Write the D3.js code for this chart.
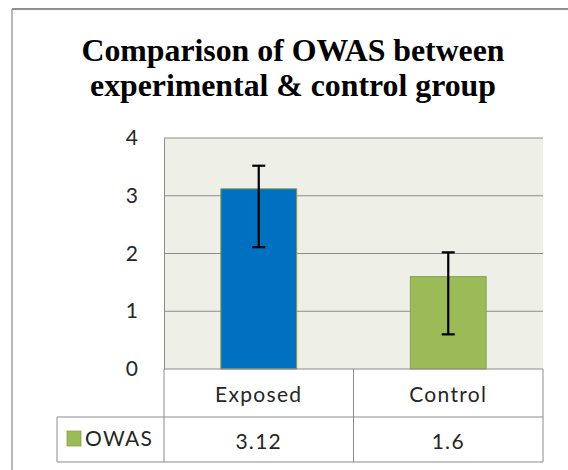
<!DOCTYPE html>
<html>
<head>
<meta charset="utf-8">
<script src="https://cdn.jsdelivr.net/npm/d3@7"></script>
<style>
html,body{margin:0;padding:0;background:#fff;}
svg{display:block;}
</style>
</head>
<body>
<svg id="chart" width="568" height="470"></svg>
<script>
const titleLines = ["Comparison of OWAS between", "experimental & control group"];
const categories = ["Exposed", "Control"];
const seriesName = "OWAS";
const values = [3.12, 1.6];
const valueLabels = ["3.12", "1.6"];
const errUpper = [3.52, 2.02];
const errLower = [2.11, 0.60];
const barColors = ["#0070C0", "#9BBB59"];
const barStroke = ["#7f9a5a", "#86a34c"];
const yTicks = [0, 1, 2, 3, 4];

const svg = d3.select("#chart");
const plot = {left: 164, right: 543, top: 138, bottom: 369};
const table = {legendLeft: 57, headerBottom: 417, bottom: 462};
const gridColor = "#8c8c8c";
const labelFont = "Lato, 'Open Sans', sans-serif";
const textColor = "#262626";

// outer frame
svg.append("line").attr("x1", 12).attr("x2", 568).attr("y1", 9).attr("y2", 9)
  .attr("stroke", "#8f8f8f").attr("stroke-width", 2);
svg.append("line").attr("x1", 12).attr("x2", 12).attr("y1", 9).attr("y2", 470)
  .attr("stroke", "#a0a0a0").attr("stroke-width", 1.5);

// title
const title = svg.append("text").attr("x", 293).attr("text-anchor", "middle")
  .attr("font-family", "'Liberation Serif', 'Times New Roman', serif")
  .attr("font-weight", "bold").attr("font-size", 31.8).attr("fill", "#000");
titleLines.forEach((t, i) => {
  title.append("tspan").attr("x", 293).attr("y", 61 + i * 35).text(t);
});

const y = d3.scaleLinear().domain([0, 4]).range([plot.bottom, plot.top]);
const x = d3.scaleBand().domain(categories).range([plot.left, plot.right]).padding(0);
const barW = x.bandwidth() * 0.4;

// plot background
svg.append("rect").attr("x", plot.left).attr("y", plot.top)
  .attr("width", plot.right - plot.left).attr("height", plot.bottom - plot.top)
  .attr("fill", "#EEF0E8");

// gridlines
svg.append("g").selectAll("line").data(yTicks.filter(d => d > 0)).join("line")
  .attr("x1", plot.left).attr("x2", plot.right)
  .attr("y1", d => y(d)).attr("y2", d => y(d))
  .attr("stroke", gridColor).attr("stroke-width", 1);

// y axis
const yAxis = d3.axisLeft(y).tickValues(yTicks).tickSize(0).tickPadding(26).tickFormat(d3.format("d"));
const ya = svg.append("g").attr("transform", `translate(${plot.left},0)`).call(yAxis);
ya.select(".domain").attr("stroke", gridColor);
ya.selectAll("text").attr("font-family", labelFont).attr("font-size", 21).attr("fill", textColor);

// bars
svg.append("g").selectAll("rect").data(values).join("rect")
  .attr("x", (d, i) => x(categories[i]) + (x.bandwidth() - barW) / 2)
  .attr("y", d => y(d))
  .attr("width", barW)
  .attr("height", d => y(0) - y(d))
  .attr("fill", (d, i) => barColors[i])
  .attr("stroke", (d, i) => barStroke[i]).attr("stroke-width", 1);

// error bars
const eg = svg.append("g").attr("stroke", "#000").attr("stroke-width", 2.2);
categories.forEach((c, i) => {
  const cx = x(c) + x.bandwidth() / 2;
  eg.append("line").attr("x1", cx).attr("x2", cx).attr("y1", y(errUpper[i])).attr("y2", y(errLower[i]));
  eg.append("line").attr("x1", cx - 6.5).attr("x2", cx + 6.5).attr("y1", y(errUpper[i])).attr("y2", y(errUpper[i]));
  eg.append("line").attr("x1", cx - 6.5).attr("x2", cx + 6.5).attr("y1", y(errLower[i])).attr("y2", y(errLower[i]));
});

// data table
const tg = svg.append("g").attr("stroke", gridColor).attr("stroke-width", 1).attr("fill", "none");
tg.append("line").attr("x1", plot.left).attr("x2", plot.right).attr("y1", plot.bottom).attr("y2", plot.bottom);
tg.append("line").attr("x1", table.legendLeft).attr("x2", plot.right).attr("y1", table.headerBottom).attr("y2", table.headerBottom);
tg.append("line").attr("x1", table.legendLeft).attr("x2", plot.right).attr("y1", table.bottom).attr("y2", table.bottom);
tg.append("line").attr("x1", table.legendLeft).attr("x2", table.legendLeft).attr("y1", table.headerBottom).attr("y2", table.bottom);
tg.append("line").attr("x1", plot.left).attr("x2", plot.left).attr("y1", plot.bottom).attr("y2", table.bottom);
categories.forEach((c, i) => {
  const xr = x(c) + x.bandwidth();
  tg.append("line").attr("x1", xr).attr("x2", xr).attr("y1", plot.bottom).attr("y2", table.bottom);
});

// header labels
svg.append("g").selectAll("text").data(categories).join("text")
  .attr("x", d => x(d) + x.bandwidth() / 2).attr("y", 402)
  .attr("text-anchor", "middle").attr("font-family", labelFont).attr("font-size", 21)
  .attr("letter-spacing", 1.3).attr("fill", textColor)
  .text(d => d);

// value labels
svg.append("g").selectAll("text").data(valueLabels).join("text")
  .attr("x", (d, i) => x(categories[i]) + x.bandwidth() / 2).attr("y", 448.5)
  .attr("text-anchor", "middle").attr("font-family", labelFont).attr("font-size", 21)
  .attr("letter-spacing", 1.3).attr("fill", textColor)
  .text(d => d);

// legend key
svg.append("rect").attr("x", 67).attr("y", 431).attr("width", 14).attr("height", 15)
  .attr("fill", barColors[1]).attr("stroke", barStroke[1]).attr("stroke-width", 0.8);
svg.append("text").attr("x", 85).attr("y", 446).attr("font-family", labelFont).attr("font-size", 21)
  .attr("fill", textColor).attr("letter-spacing", 1.3).text(seriesName);
</script>
</body>
</html>
